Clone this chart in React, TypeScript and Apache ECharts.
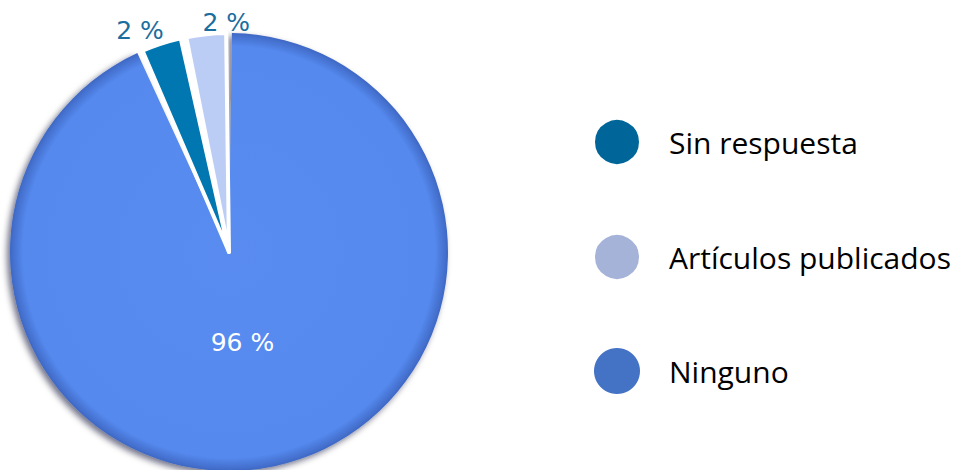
import React, { useEffect, useRef } from "react";
import * as echarts from "echarts";

const categories = ["Ninguno", "Sin respuesta", "Artículos publicados"];
const values = [96, 2, 2];
const sliceColors = ["#5589EE", "#0077B0", "#BCCDF5"];
const legendOrder = ["Sin respuesta", "Artículos publicados", "Ninguno"];
const legendColors = ["#006699", "#A5B3D8", "#4472C4"];

// label nudges (px) per data index: [dx, dy]
const labelNudge = [
  [-10, -20],
  [49, -21],
  [53, -2],
];

export default function App() {
  const ref = useRef<HTMLDivElement>(null);
  useEffect(() => {
    document.body.style.margin = "0";
    const chart = echarts.init(ref.current!, null, { renderer: "svg" });
    const data = categories.map((name, i) => {
      const big = i === 0;
      return {
        name,
        value: values[i],
        itemStyle: {
          color: big
            ? {
                type: "radial",
                x: 0.5,
                y: 0.5,
                r: 0.5,
                colorStops: [
                  { offset: 0, color: "#5A8CF0" },
                  { offset: 0.94, color: "#5589EE" },
                  { offset: 1, color: "#3F68C4" },
                ],
              }
            : sliceColors[i],
          borderColor: "#FFFFFF",
          borderWidth: big ? 0 : 4,
          shadowColor: "rgba(0,0,40,0.55)",
          shadowBlur: big ? 6 : 0,
          shadowOffsetX: big ? -3 : 0,
          shadowOffsetY: big ? 3 : 0,
        },
        label: big
          ? {
              position: "inside",
              color: "#FFFFFF",
              fontSize: 25,
              fontFamily: "DejaVu Sans",
            }
          : {
              position: "outside",
              color: "#1A6E9E",
              fontSize: 25,
              fontFamily: "DejaVu Sans",
            },
        labelLine: { show: false, length: 10, length2: 3 },
      };
    });
    chart.setOption({
      animation: false,
      legend: {
        orient: "vertical",
        left: 588,
        top: 113,
        icon: "circle",
        itemWidth: 46,
        itemHeight: 46,
        itemGap: 67,
        data: legendOrder.map((name, i) => ({
          name,
          itemStyle: { color: legendColors[i] },
        })),
        textStyle: {
          fontFamily: "Open Sans",
          fontSize: 30,
          color: "#000000",
          padding: [0, 0, 0, 24],
        },
      },
      series: [
        {
          type: "pie",
          center: [229, 252],
          radius: 219,
          startAngle: 90,
          clockwise: true,
          padAngle: 1.5,
          minAngle: 10.5,
          data,
          label: {
            show: true,
            formatter: "{c} %",
          },
          labelLayout: (p: any) => ({
            dx: labelNudge[p.dataIndex][0],
            dy: labelNudge[p.dataIndex][1],
          }),
        },
      ],
    });
    return () => chart.dispose();
  }, []);
  return <div ref={ref} style={{ width: 953, height: 470 }} />;
}
